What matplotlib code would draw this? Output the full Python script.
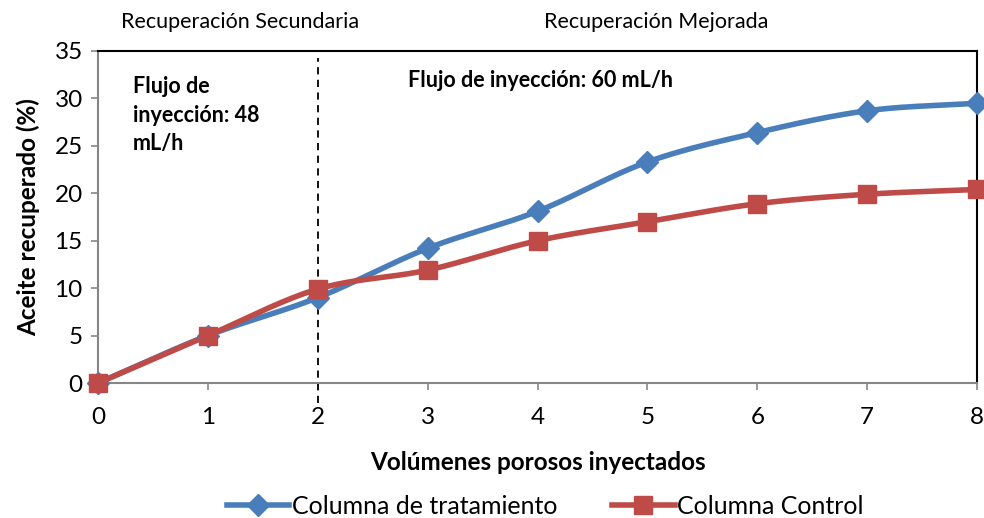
import numpy as np
import matplotlib.pyplot as plt

plt.rcParams['font.family'] = ['Lato', 'DejaVu Sans']

# Datos de recuperación
volumenes = [0, 1, 2, 3, 4, 5, 6, 7, 8]
tratamiento = [0, 5.0, 9.0, 14.2, 18.1, 23.3, 26.4, 28.7, 29.5]
control = [0, 5.0, 9.9, 11.9, 15.0, 17.0, 18.9, 19.9, 20.4]

BLUE = '#4a7ebb'
RED = '#be4b48'


def suavizar(x, y, n=30):
    # Curva Catmull-Rom entre puntos consecutivos (similar a "línea suavizada")
    x = np.asarray(x, float)
    y = np.asarray(y, float)
    px = np.concatenate([[2 * x[0] - x[1]], x, [2 * x[-1] - x[-2]]])
    py = np.concatenate([[2 * y[0] - y[1]], y, [2 * y[-1] - y[-2]]])
    xs, ys = [], []
    t = np.linspace(0, 1, n)
    for i in range(1, len(px) - 2):
        for p, out in ((px, xs), (py, ys)):
            p0, p1, p2, p3 = p[i - 1], p[i], p[i + 1], p[i + 2]
            out.extend(0.5 * ((2 * p1) + (-p0 + p2) * t
                              + (2 * p0 - 5 * p1 + 4 * p2 - p3) * t ** 2
                              + (-p0 + 3 * p1 - 3 * p2 + p3) * t ** 3))
    return xs, ys


fig = plt.figure(figsize=(9.84, 5.18), dpi=100)
ax = fig.add_axes([98 / 984, 135 / 518, 879 / 984, 332 / 518])

for serie, color, marker, ms, label in [
        (tratamiento, BLUE, 'D', 11, 'Columna de tratamiento'),
        (control, RED, 's', 13, 'Columna Control')]:
    sx, sy = suavizar(volumenes, serie)
    ax.plot(sx, sy, color=color, lw=4, clip_on=False, zorder=3)
    ax.plot(volumenes, serie, ls='none', marker=marker, ms=ms, color=color,
            clip_on=False, zorder=4)
    ax.plot([], [], color=color, lw=4, marker=marker, ms=ms, label=label)

ax.set_xlim(0, 8)
ax.set_ylim(0, 35)
ax.set_xticks(range(0, 9))
ax.set_yticks(range(0, 36, 5))
ax.tick_params(labelsize=17.5, color='#868686', length=5, width=1.2)
ax.tick_params(axis='x', pad=12)
ax.tick_params(axis='y', pad=6)

for s in ('left', 'bottom'):
    ax.spines[s].set_color('#868686')
    ax.spines[s].set_linewidth(1.5)
for s in ('top', 'right'):
    ax.spines[s].set_color('black')
    ax.spines[s].set_linewidth(1.5)

ax.axvline(2, ymin=-0.06, ymax=0.98, color='black', ls=(0, (4, 3)), lw=1.3,
           clip_on=False, zorder=2)

ax.set_xlabel('Volúmenes porosos inyectados', fontsize=17.5, fontweight='bold',
              labelpad=17)
ax.set_ylabel('Aceite recuperado (%)', fontsize=17.5, fontweight='bold',
              labelpad=10)

fig.text(240 / 984, 1 - 22 / 518, 'Recuperación Secundaria', ha='center',
         va='center', fontsize=15.5)
fig.text(656 / 984, 1 - 22 / 518, 'Recuperación Mejorada', ha='center',
         va='center', fontsize=15.5)

ax.text((133 - 98) / 879, (383 - 76) / 332,
        'Flujo de\ninyección: 48\nmL/h', transform=ax.transAxes,
        fontsize=15.5, fontweight='bold', va='top', linespacing=1.45)
ax.text((408 - 98) / 879, (383 - 70) / 332, 'Flujo de inyección: 60 mL/h',
        transform=ax.transAxes, fontsize=15.5, fontweight='bold', va='top')

fig.legend(loc='center', bbox_to_anchor=(545 / 984, 1 - 506 / 518), ncol=2,
           frameon=False, fontsize=18, handlelength=2.5, handletextpad=0.1,
           columnspacing=2.2)

fig.savefig('out.png', dpi=100)
